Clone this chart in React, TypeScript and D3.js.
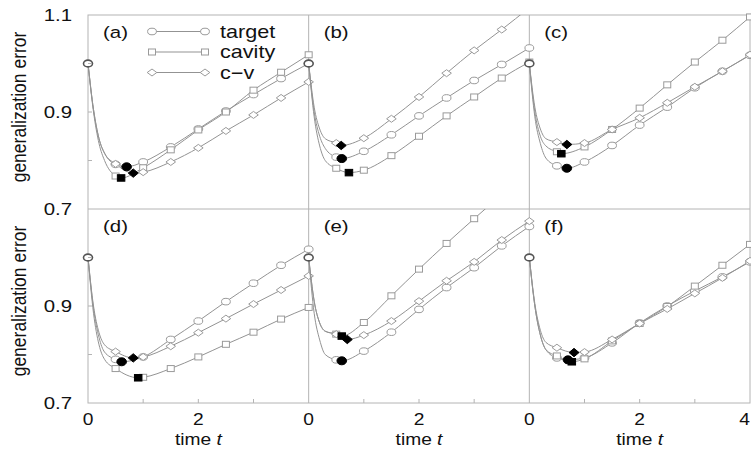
import * as d3 from "d3";

// sample times of every curve (markers from t = 0.5 on)
const times = [0, 0.1, 0.2, 0.3, 0.5, 1, 1.5, 2, 2.5, 3, 3.5, 4];
const markerFrom = 4;

const panelLabels = ["(a)", "(b)", "(c)", "(d)", "(e)", "(f)"];
const seriesNames = ["target", "cavity", "c\u2212v"];
const yTicks = [0.7, 0.9, 1.1];
const yMinor = [0.8, 0.9, 1.0];
const xTickLabels = [0, 2];
const xMinor = [1, 2, 3];

// values read per panel: target (circle), cavity (square), c-v (diamond)
const targetA = [1.0, 0.905, 0.845, 0.815, 0.792, 0.797, 0.828, 0.865, 0.902, 0.936, 0.969, 1.0];
const cavityA = [1.0, 0.9, 0.835, 0.8, 0.768, 0.785, 0.822, 0.863, 0.9, 0.945, 0.982, 1.018];
const cvA = [1.0, 0.905, 0.845, 0.815, 0.793, 0.776, 0.797, 0.826, 0.861, 0.894, 0.929, 0.962];
const stopsA = [[0.7, 0.787], [0.6, 0.764], [0.82, 0.774]];

const targetB = [1.0, 0.9, 0.85, 0.825, 0.807, 0.819, 0.853, 0.892, 0.929, 0.965, 0.998, 1.032];
const cavityB = [1.0, 0.89, 0.83, 0.8, 0.784, 0.78, 0.81, 0.85, 0.892, 0.931, 0.97, 1.003];
const cvB = [1.0, 0.91, 0.865, 0.845, 0.836, 0.846, 0.886, 0.931, 0.98, 1.027, 1.07, 1.115];
const stopsB = [[0.6, 0.804], [0.73, 0.775], [0.59, 0.831]];

const targetC = [1.0, 0.89, 0.835, 0.805, 0.789, 0.797, 0.831, 0.873, 0.91, 0.95, 0.984, 1.017];
const cavityC = [1.0, 0.9, 0.85, 0.83, 0.818, 0.828, 0.864, 0.908, 0.956, 1.003, 1.048, 1.096];
const cvC = [1.0, 0.91, 0.865, 0.845, 0.838, 0.836, 0.864, 0.888, 0.919, 0.952, 0.984, 1.018];
const stopsC = [[0.68, 0.784], [0.58, 0.814], [0.68, 0.833]];

const targetD = [1.0, 0.895, 0.835, 0.805, 0.79, 0.795, 0.831, 0.869, 0.909, 0.947, 0.984, 1.017];
const cavityD = [1.0, 0.885, 0.82, 0.79, 0.771, 0.753, 0.771, 0.795, 0.821, 0.846, 0.873, 0.897];
const cvD = [1.0, 0.9, 0.845, 0.82, 0.806, 0.795, 0.817, 0.845, 0.874, 0.904, 0.933, 0.962];
const stopsD = [[0.61, 0.785], [0.91, 0.752], [0.82, 0.793]];

const targetE = [1.0, 0.885, 0.83, 0.8, 0.789, 0.807, 0.846, 0.893, 0.938, 0.979, 1.024, 1.064];
const cavityE = [1.0, 0.91, 0.865, 0.848, 0.842, 0.866, 0.921, 0.976, 1.029, 1.08, 1.13, 1.18];
const cvE = [1.0, 0.91, 0.865, 0.848, 0.842, 0.84, 0.869, 0.91, 0.952, 0.991, 1.036, 1.075];
const stopsE = [[0.6, 0.787], [0.6, 0.838], [0.7, 0.831]];

const targetF = [1.0, 0.9, 0.84, 0.81, 0.793, 0.793, 0.824, 0.865, 0.9, 0.931, 0.96, 0.991];
const cavityF = [1.0, 0.9, 0.84, 0.81, 0.797, 0.791, 0.828, 0.864, 0.899, 0.941, 0.984, 1.027];
const cvF = [1.0, 0.905, 0.85, 0.825, 0.814, 0.805, 0.831, 0.864, 0.894, 0.926, 0.958, 0.993];
const stopsF = [[0.7, 0.789], [0.77, 0.785], [0.81, 0.804]];

const panels = [
  { series: [targetA, cavityA, cvA], stops: stopsA },
  { series: [targetB, cavityB, cvB], stops: stopsB },
  { series: [targetC, cavityC, cvC], stops: stopsC },
  { series: [targetD, cavityD, cvD], stops: stopsD },
  { series: [targetE, cavityE, cvE], stops: stopsE },
  { series: [targetF, cavityF, cvF], stops: stopsF },
];

const W = 751;
const H = 449;
const left = 88;
const top = 15;
const pw = (750 - 88) / 3;
const ph = 194;

const lineColor = "#939393";
const frameColor = "#b4b4b4";
const markColor = "#9a9a9a";
const font = "'Liberation Sans', Arial, Helvetica, sans-serif";

function Marker({ kind, x, y, filled }: { kind: number; x: number; y: number; filled: boolean }) {
  const fill = filled ? "#000" : "#fff";
  const stroke = filled ? "#000" : markColor;
  if (kind === 0) {
    return <ellipse cx={x} cy={y} rx={filled ? 4.8 : 4.4} ry={filled ? 4 : 3.3} fill={fill} stroke={stroke} strokeWidth={1} />;
  }
  if (kind === 1) {
    const w = filled ? 7.5 : 7;
    const h = filled ? 6.5 : 6;
    return <rect x={x - w / 2} y={y - h / 2} width={w} height={h} fill={fill} stroke={stroke} strokeWidth={1} />;
  }
  const dx = filled ? 5 : 4.8;
  const dy = filled ? 4.2 : 3.5;
  return (
    <path
      d={`M${x - dx},${y}L${x},${y - dy}L${x + dx},${y}L${x},${y + dy}Z`}
      fill={fill}
      stroke={stroke}
      strokeWidth={1}
    />
  );
}

function Panel({ index }: { index: number }) {
  const col = index % 3;
  const row = Math.floor(index / 3);
  const x0 = left + col * pw;
  const y0 = top + row * ph;
  const x = d3.scaleLinear().domain([0, 4]).range([x0, x0 + pw]);
  const y = d3.scaleLinear().domain([0.7, 1.1]).range([y0 + ph, y0]);
  const p = panels[index];
  const line = d3
    .line<number[]>()
    .x((d) => x(d[0]))
    .y((d) => y(d[1]))
    .curve(d3.curveMonotoneX);
  const clipId = `clip-${index}`;
  const xLabels = col === 2 ? [...xTickLabels, 4] : xTickLabels;

  return (
    <g>
      <clipPath id={clipId}>
        <rect x={x0 - 3} y={y0} width={pw + 6} height={ph} />
      </clipPath>
      <g clipPath={`url(#${clipId})`}>
        {p.series.map((s, si) => {
          const pts = times.map((t, k) => [t, s[k]]);
          pts.push(p.stops[si]);
          pts.sort((a, b) => a[0] - b[0]);
          return <path key={si} d={line(pts) || ""} fill="none" stroke={lineColor} strokeWidth={1} />;
        })}
      </g>
      {p.series.map((s, si) =>
        times.map((t, k) =>
          k >= markerFrom && s[k] <= 1.1 ? (
            <Marker key={`${si}-${k}`} kind={si} x={x(t)} y={y(s[k])} filled={false} />
          ) : null
        )
      )}
      <ellipse cx={x(0)} cy={y(p.series[0][0])} rx={4.5} ry={3.4} fill="#fff" stroke="#555" strokeWidth={1.6} />
      {p.stops.map((st, si) => (
        <Marker key={`f${si}`} kind={si} x={x(st[0])} y={y(st[1])} filled={true} />
      ))}
      <text
        transform={`translate(${x0 + 15},${y0 + 23}) scale(1.2,1)`}
        fontFamily={font}
        fontSize={17}
        fill="#111"
      >
        {panelLabels[index]}
      </text>
      {row === 1 &&
        xMinor.map((t) => (
          <line key={`xt${t}`} x1={x(t)} x2={x(t)} y1={y0 + ph} y2={y0 + ph - 4} stroke={frameColor} />
        ))}
      {col === 0 &&
        yMinor.map((v) => (
          <line key={`yt${v}`} x1={x0} x2={x0 + 4} y1={y(v)} y2={y(v)} stroke={frameColor} />
        ))}
      {row === 1 &&
        xLabels.map((t) => (
          <text
            key={`xl${t}`}
            transform={`translate(${t === 4 ? W - 1 : x(t)},${y0 + ph + 22}) scale(1.2,1)`}
            textAnchor={t === 4 ? "end" : "middle"}
            fontFamily={font}
            fontSize={16}
            fill="#111"
          >
            {t}
          </text>
        ))}
      {row === 1 && (
        <text
          transform={`translate(${x(2)},${y0 + ph + 42}) scale(1.2,1)`}
          textAnchor="middle"
          fontFamily={font}
          fontSize={16}
          fill="#111"
        >
          time <tspan fontStyle="italic">t</tspan>
        </text>
      )}
      {col === 0 &&
        yTicks
          .filter((v) => row === 0 || v < 1.1)
          .map((v) => (
            <text
              key={`yl${v}`}
              transform={`translate(${x0 - 16},${y(v)}) scale(1.2,1)`}
              dy="0.36em"
              textAnchor="end"
              fontFamily={font}
              fontSize={17}
              fill="#111"
            >
              {v.toFixed(1)}
            </text>
          ))}
      {col === 0 && (
        <text
          transform={`translate(${26},${y0 + ph / 2 - 5}) scale(1.15,1) rotate(-90)`}
          textAnchor="middle"
          fontFamily={font}
          fontSize={17.5}
          fill="#111"
        >
          generalization error
        </text>
      )}
    </g>
  );
}

function Legend() {
  const rows = [31.5, 52, 72.5];
  const xa = 152;
  const xb = 205;
  return (
    <g>
      {seriesNames.map((name, i) => (
        <g key={name}>
          <line x1={xa} x2={xb} y1={rows[i]} y2={rows[i]} stroke={lineColor} />
          <Marker kind={i} x={xa} y={rows[i]} filled={false} />
          <Marker kind={i} x={xb} y={rows[i]} filled={false} />
          <text
            transform={`translate(${220},${rows[i]}) scale(1.2,1)`}
            dy="0.35em"
            fontFamily={font}
            fontSize={18}
            fill="#111"
          >
            {name}
          </text>
        </g>
      ))}
    </g>
  );
}

export default function App() {
  return (
    <svg
      width={W}
      height={H}
      style={{ position: "absolute", left: 0, top: 0, background: "#fff" }}
    >
      <rect x={0} y={0} width={W} height={H} fill="#fff" />
      <rect x={left} y={top} width={pw * 3} height={ph * 2} fill="none" stroke={frameColor} />
      <line x1={left} x2={left + 3 * pw} y1={top + ph} y2={top + ph} stroke={frameColor} />
      <line x1={left + pw} x2={left + pw} y1={top} y2={top + 2 * ph} stroke={frameColor} />
      <line x1={left + 2 * pw} x2={left + 2 * pw} y1={top} y2={top + 2 * ph} stroke={frameColor} />
      {panels.map((_, i) => (
        <Panel key={i} index={i} />
      ))}
      <Legend />
    </svg>
  );
}
